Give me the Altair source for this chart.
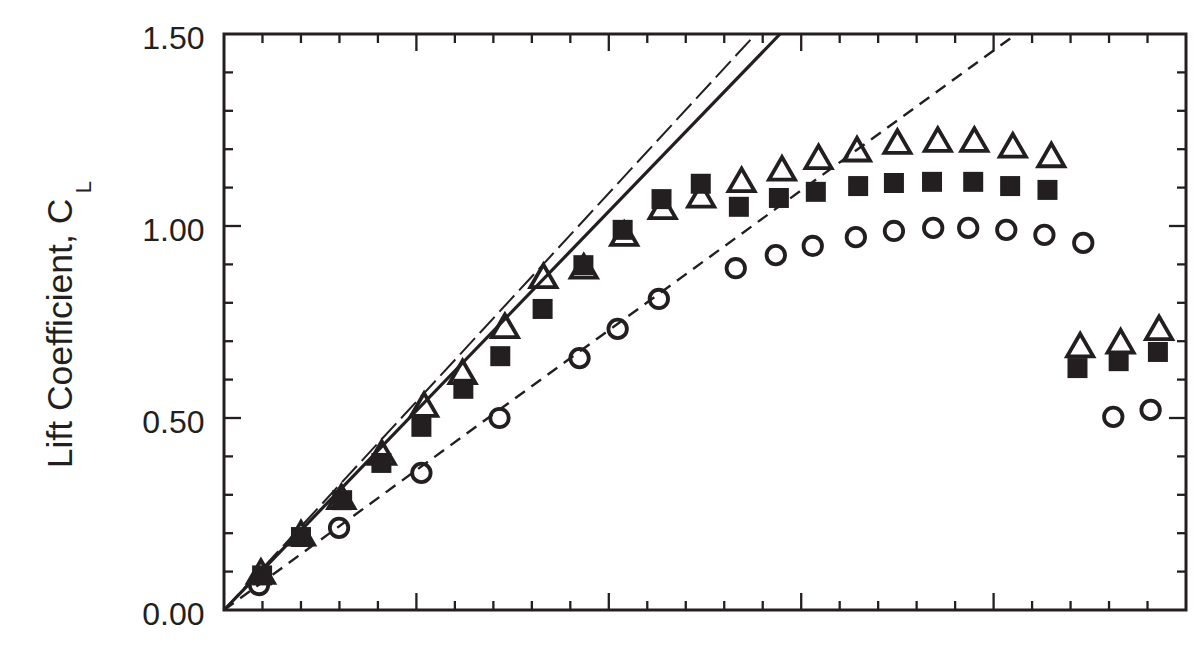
import altair as alt
import pandas as pd

INK = "#231f20"

# ---- data ----
tri_alpha = [0.96, 2.0, 3.05, 4.1, 5.2, 6.2, 7.3, 8.3, 9.35, 10.4, 11.4, 12.4,
             13.45, 14.5, 15.45, 16.45, 17.5, 18.55, 19.5, 20.5, 21.5, 22.25, 23.3, 24.3]
tri_cl = [0.10, 0.20, 0.295, 0.41, 0.535, 0.62, 0.74, 0.87, 0.895, 0.98, 1.05, 1.08,
          1.12, 1.15, 1.18, 1.20, 1.22, 1.225, 1.225, 1.21, 1.185, 0.69, 0.70, 0.735]

sq_alpha = [0.99, 2.0, 3.07, 4.09, 5.13, 6.22, 7.18, 8.28, 9.34, 10.36, 11.37, 12.39,
            13.38, 14.42, 15.38, 16.48, 17.41, 18.40, 19.47, 20.43, 21.40, 22.18, 23.25, 24.27]
sq_cl = [0.09, 0.19, 0.286, 0.383, 0.477, 0.576, 0.661, 0.784, 0.898, 0.99, 1.07, 1.11,
         1.05, 1.073, 1.089, 1.104, 1.112, 1.115, 1.115, 1.104, 1.094, 0.63, 0.648, 0.672]

circ_alpha = [0.91, 2.99, 5.13, 7.16, 9.24, 10.23, 11.30, 13.30, 14.34, 15.30, 16.42,
              17.41, 18.43, 19.34, 20.33, 21.32, 22.33, 23.11, 24.08]
circ_cl = [0.065, 0.214, 0.357, 0.50, 0.656, 0.732, 0.81, 0.89, 0.924, 0.948, 0.971,
           0.987, 0.995, 0.995, 0.99, 0.977, 0.956, 0.503, 0.521]

solid_alpha = [0.0, 14.45]
solid_cl = [0.0, 1.50]
longdash_alpha = [0.0, 13.82]
longdash_cl = [0.0, 1.50]
shortdash_alpha = [0.0, 20.59]
shortdash_cl = [0.0, 1.50]

y_labels = [0.0, 0.5, 1.0, 1.5]
y_minor = [0.1, 0.2, 0.3, 0.4, 0.6, 0.7, 0.8, 0.9, 1.1, 1.2, 1.3, 1.4]
y_major = [0.5, 1.0]
x_minor = [1, 2, 3, 4, 6, 7, 8, 9, 11, 12, 13, 14, 16, 17, 18, 19, 21, 22, 23, 24]
x_major = [5, 10, 15, 20]

W, H = 962, 576
FONT = "Liberation Sans"

xs = alt.Scale(domain=[0, 25], nice=False, zero=False)
ys = alt.Scale(domain=[0, 1.5], nice=False, zero=False)

def df(a, c):
    return pd.DataFrame({"alpha": a, "cl": c})

yaxis = alt.Axis(values=y_labels, format=".2f", ticks=False, domain=False, grid=False,
                 labelFont=FONT, labelFontSize=32, labelColor=INK, labelPadding=20,
                 labelFlush=False, labelOffset=4,
                 title="Lift Coefficient, C", titleFont=FONT, titleFontSize=35.5,
                 titleFontWeight="normal", titleColor=INK, titleX=-146, titleY=299)

def Y(field):
    return alt.Y(field, scale=ys, axis=yaxis)

def X(field):
    return alt.X(field, scale=xs, axis=None)

squares = alt.Chart(df(sq_alpha, sq_cl)).mark_point(
    shape="square", filled=True, size=400, color=INK, opacity=1
).encode(x=X("alpha:Q"), y=Y("cl:Q"))

triangles = alt.Chart(df(tri_alpha, tri_cl)).mark_point(
    shape="triangle-up", filled=False, size=680, color=INK, strokeWidth=3.8, opacity=1
).encode(x=X("alpha:Q"), y=Y("cl:Q"))

circles = alt.Chart(df(circ_alpha, circ_cl)).mark_point(
    shape="circle", filled=False, size=340, color=INK, strokeWidth=3.8, opacity=1
).encode(x=X("alpha:Q"), y=Y("cl:Q"))

def line(a, c, width, dash=None):
    kw = dict(color=INK, strokeWidth=width, strokeCap="butt")
    if dash:
        kw["strokeDash"] = dash
    return alt.Chart(df(a, c)).mark_line(**kw).encode(x=X("alpha:Q"), y=Y("cl:Q"))

solid = line(solid_alpha, solid_cl, 3.2)
longdash = line(longdash_alpha, longdash_cl, 2.0, [22, 7])
shortdash = line(shortdash_alpha, shortdash_cl, 2.4, [12, 8])

def yticks(vals, x0, x1):
    return alt.Chart(pd.DataFrame({"v": vals})).mark_rule(color=INK, strokeWidth=2.3).encode(
        y=Y("v:Q"), x=alt.value(x0), x2=alt.value(x1))

def xticks(vals, y0, y1):
    return alt.Chart(pd.DataFrame({"v": vals})).mark_rule(color=INK, strokeWidth=2.3).encode(
        x=X("v:Q"), y=alt.value(y0), y2=alt.value(y1))

ticks = [
    yticks(y_minor, 0, 9), yticks(y_major, 0, 17),
    yticks(y_minor, W, W - 9), yticks(y_major, W, W - 17),
    xticks(x_minor, H, H - 9), xticks(x_major, H, H - 17),
    xticks(x_minor, 0, 9), xticks(x_major, 0, 17),
]

sub = alt.Chart(pd.DataFrame({"t": ["L"]})).mark_text(
    angle=270, font=FONT, fontSize=22, color=INK, baseline="alphabetic", align="center"
).encode(text="t:N", x=alt.value(-133), y=alt.value(153))

chart = alt.layer(
    squares, *ticks, solid, longdash, shortdash, triangles, circles, sub
).properties(
    width=W, height=H,
    autosize=alt.AutoSizeParams(type="none"),
    padding={"left": 224, "top": 34, "right": 17, "bottom": 49},
    background="white",
).configure_view(stroke=INK, strokeWidth=3)

chart.save("out.html", embed_options={"renderer": "svg", "actions": False})
